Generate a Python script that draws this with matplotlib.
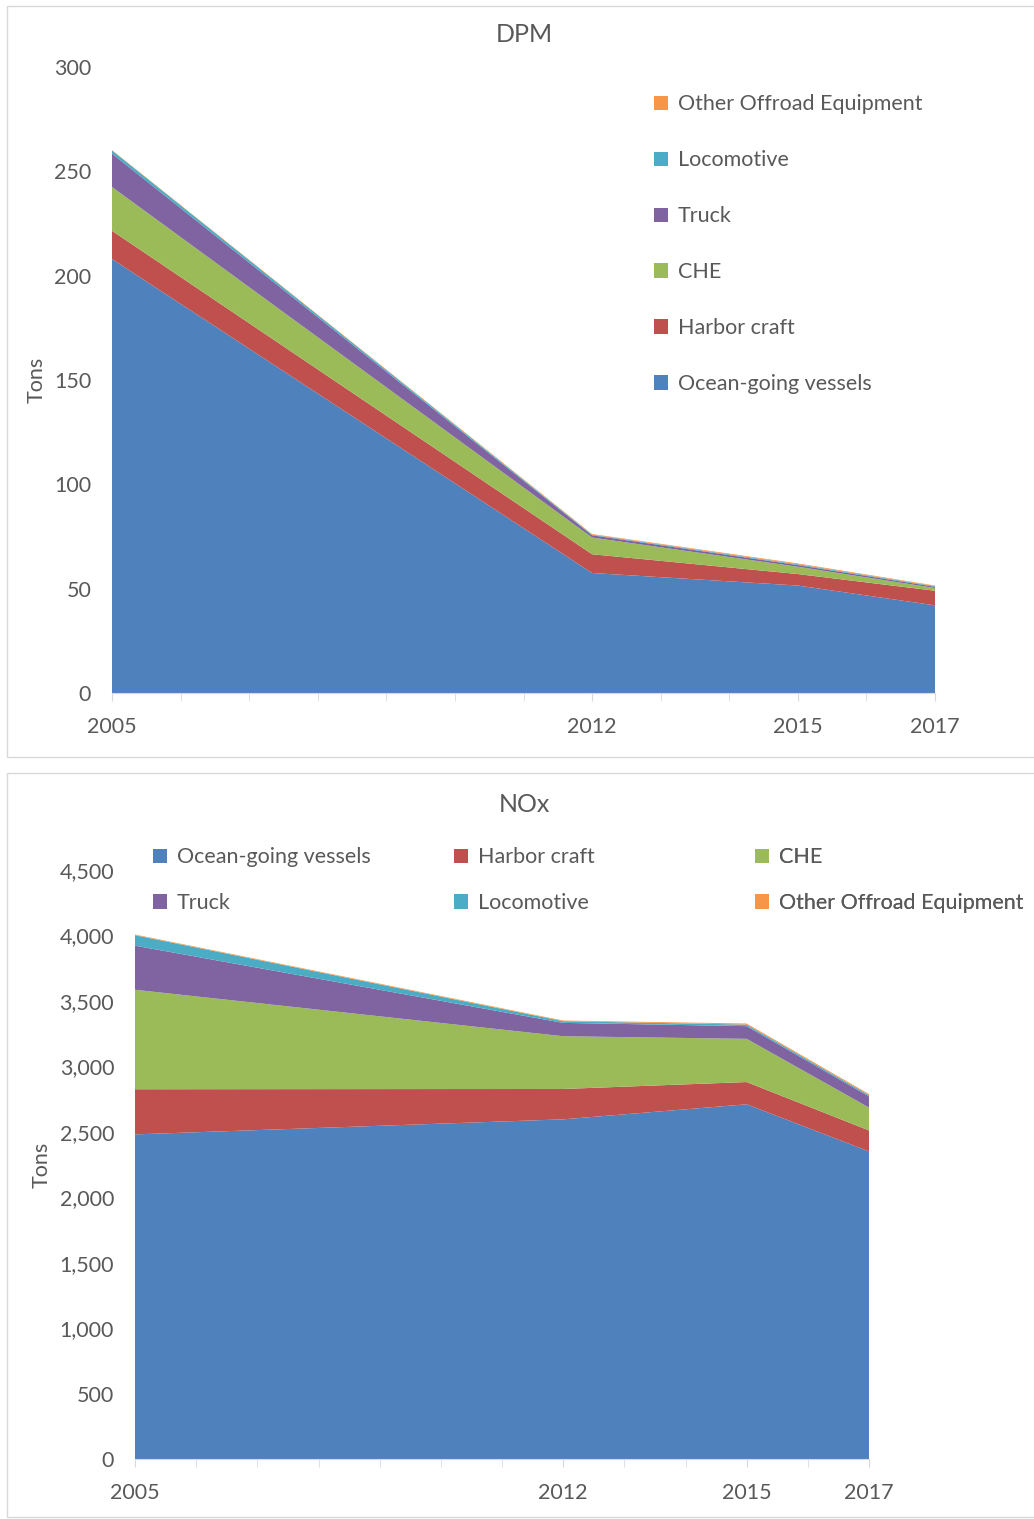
import numpy as np
import matplotlib.pyplot as plt
from matplotlib.patches import Rectangle

plt.rcParams['font.family'] = ['Lato', 'DejaVu Sans']

years = [2005, 2012, 2015, 2017]
sources = ['Ocean-going vessels', 'Harbor craft', 'CHE', 'Truck',
           'Locomotive', 'Other Offroad Equipment']
colors = ['#4F81BD', '#C0504D', '#9BBB59', '#8064A2', '#4BACC6', '#F79646']

# DPM, tons
dpm_ogv = [208, 57.5, 51.5, 42]
dpm_harbor = [13.5, 9, 5.5, 7]
dpm_che = [21, 8, 3.5, 1.3]
dpm_truck = [16, 1.1, 0.8, 0.6]
dpm_loco = [1.5, 0.3, 0.4, 0.3]
dpm_other = [0.2, 0.3, 0.4, 0.3]

# NOx, tons
nox_ogv = [2480, 2595, 2710, 2350]
nox_harbor = [345, 232, 170, 160]
nox_che = [760, 403, 330, 175]
nox_truck = [337, 102, 97, 85]
nox_loco = [80, 13, 12, 10]
nox_other = [5, 5, 8, 8]

txt = '#595959'
grid = '#D9D9D9'
fs = 15.5

fig = plt.figure(figsize=(10.34, 15.19), dpi=100)

# panel frames
fig.add_artist(Rectangle((7/1034, 1-757/1519), 1030/1034, 751/1519,
                         transform=fig.transFigure, fill=False, ec=grid, lw=1))
fig.add_artist(Rectangle((7/1034, 0.001), 1030/1034, 1-775/1519,
                         transform=fig.transFigure, fill=False, ec=grid, lw=1))


def style_axes(ax, ylim, yticks, fmt, xpad):
    ax.set_xlim(2005, 2017)
    ax.set_ylim(*ylim)
    ax.set_yticks(yticks)
    ax.set_yticklabels([fmt.format(v) for v in yticks])
    ax.set_xticks([2005, 2012, 2015, 2017])
    ax.set_xticklabels(['2005', '2012', '2015', '2017'])
    ax.set_xticks(range(2005, 2018), minor=True)
    for s in ['top', 'right', 'left']:
        ax.spines[s].set_visible(False)
    ax.spines['bottom'].set_color(grid)
    ax.tick_params(axis='y', length=0, pad=15, labelsize=fs, labelcolor=txt)
    ax.tick_params(axis='x', which='both', length=6, color=grid,
                   pad=xpad, labelsize=fs, labelcolor=txt)
    ax.set_ylabel('Tons', fontsize=fs, color=txt)


# DPM panel
ax1 = fig.add_axes([112/1034, 1-693/1519, 823/1034, 626/1519])
ax1.stackplot(years, dpm_ogv, dpm_harbor, dpm_che, dpm_truck, dpm_loco,
              dpm_other, colors=colors, labels=sources, lw=0)
style_axes(ax1, (0, 300), range(0, 301, 50), '{:d}', 11)
ax1.yaxis.set_label_coords(-0.079, 0.5)
fig.text(524/1034, 1-35/1519, 'DPM', ha='center', va='center',
         fontsize=18, color=txt)
h, l = ax1.get_legend_handles_labels()
ax1.legend(h[::-1], l[::-1], loc='upper left',
           bbox_to_anchor=(635/1034, 1-75/1519), bbox_transform=fig.transFigure,
           frameon=False, fontsize=fs, labelcolor=txt, handlelength=0.65,
           handleheight=0.65, handletextpad=0.45, labelspacing=1.67)

# NOx panel
ax2 = fig.add_axes([135/1034, 1-1459/1519, 734/1034, 589/1519])
ax2.stackplot(years, nox_ogv, nox_harbor, nox_che, nox_truck, nox_loco,
              nox_other, colors=colors, labels=sources, lw=0)
style_axes(ax2, (0, 4500), range(0, 4501, 500), '{:,}', 11)
ax2.yaxis.set_label_coords(-0.114, 0.5)
fig.text(524/1034, 1-804/1519, 'NOx', ha='center', va='center',
         fontsize=18, color=txt)
h, l = ax2.get_legend_handles_labels()
# three equal-width columns, like the spreadsheet legend
for col, x0 in enumerate([134, 435, 736]):
    leg = ax2.legend([h[col], h[col + 3]], [l[col], l[col + 3]],
                     loc='upper left', bbox_to_anchor=(x0/1034, 1-828/1519),
                     bbox_transform=fig.transFigure, frameon=False,
                     fontsize=fs, labelcolor=txt, handlelength=0.65,
                     handleheight=0.65, handletextpad=0.45, labelspacing=1.2)
    ax2.add_artist(leg)

fig.savefig('out.png', dpi=100)
